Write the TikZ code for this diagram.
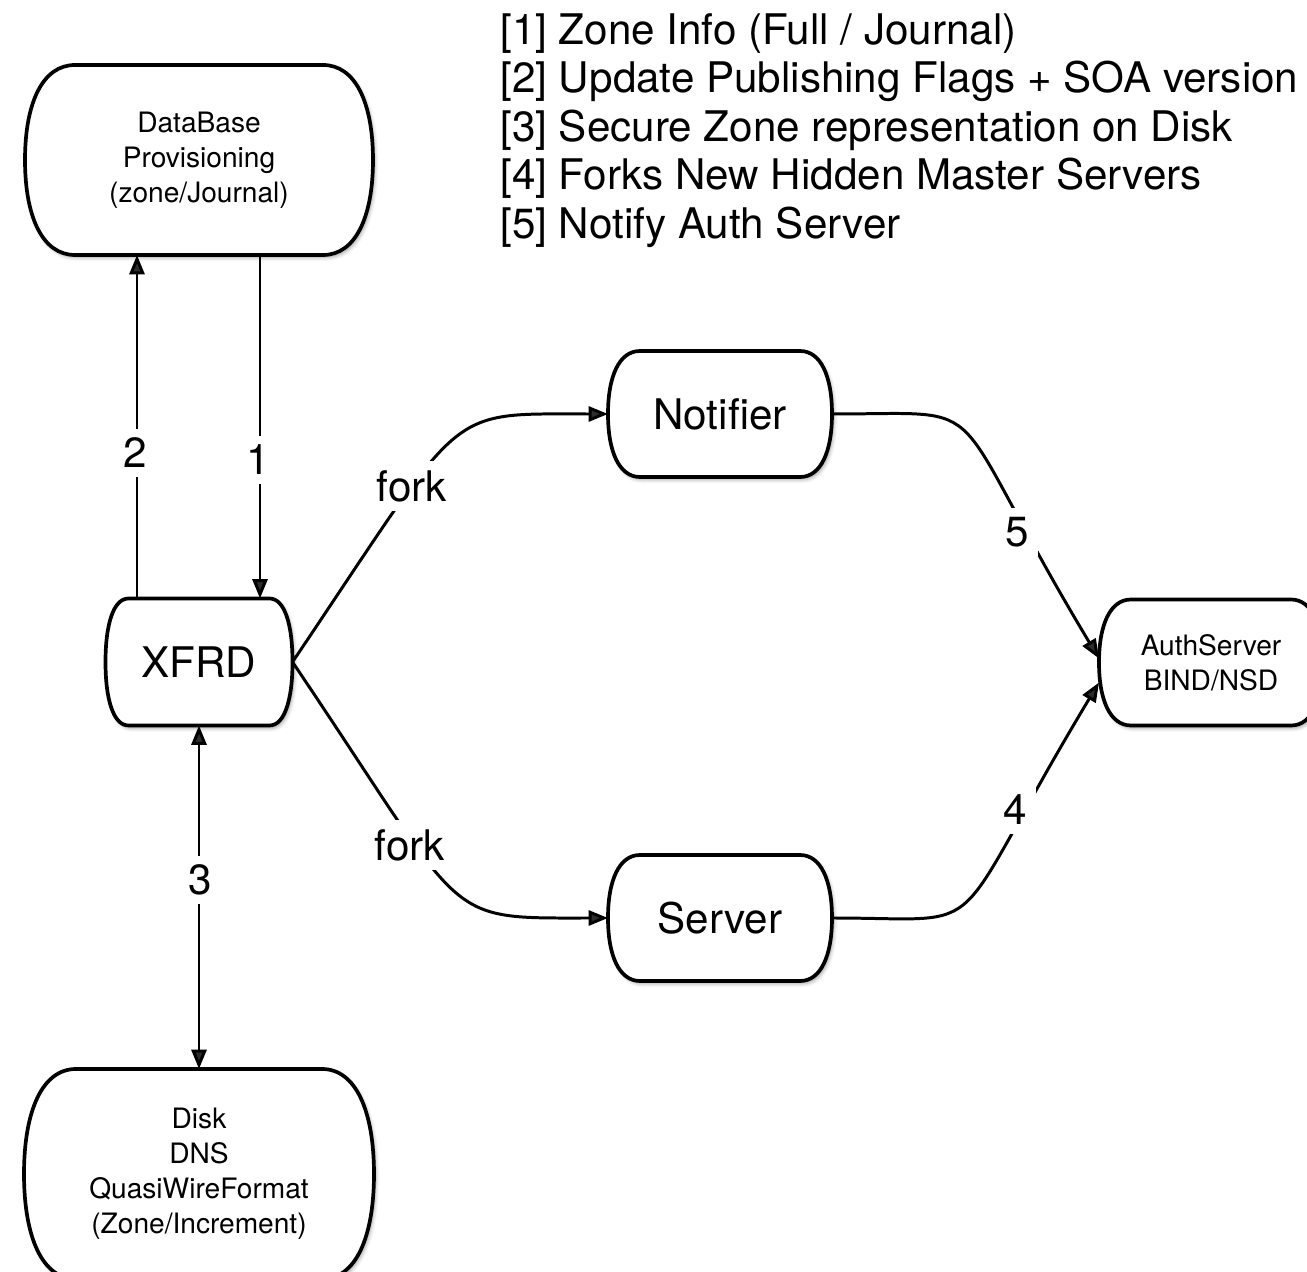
\documentclass[tikz,border=0pt]{standalone}
\usepackage{fontspec}
\setmainfont{TeX Gyre Heros}
\usetikzlibrary{calc, arrows.meta, backgrounds, shadows.blur}

% outline with bulging sides round a node
\newcommand{\pillbox}[2]{%
  \draw[boxline]
    ($(#1.north west)+(#2,0)$) -- ($(#1.north east)+({-#2},0)$)
    .. controls ($(#1.north east)+({-#2*0.35},0)$) and ($(#1.north east)!0.4!(#1.east)$) .. (#1.east)
    .. controls ($(#1.south east)!0.4!(#1.east)$) and ($(#1.south east)+({-#2*0.35},0)$) .. ($(#1.south east)+({-#2},0)$)
    -- ($(#1.south west)+(#2,0)$)
    .. controls ($(#1.south west)+({#2*0.35},0)$) and ($(#1.south west)!0.4!(#1.west)$) .. (#1.west)
    .. controls ($(#1.north west)!0.4!(#1.west)$) and ($(#1.north west)+({#2*0.35},0)$) .. cycle;%
}

\begin{document}
\begin{tikzpicture}[
    >={Triangle[length=11pt, width=8.5pt]},
    conn/.style={line width=1.7pt},
    box/.style={inner sep=0pt, outer sep=0pt, align=center},
    big/.style={font=\fontsize{24}{28}\selectfont},
    small/.style={font=\fontsize{16}{19.9}\selectfont},
    boxline/.style={line width=2.1pt, fill=white,
        blur shadow={shadow xshift=1.2pt, shadow yshift=-1.6pt,
                     shadow blur radius=2pt, shadow opacity=35}},
    lbl/.style={fill=white, inner sep=5pt, font=\fontsize{24}{28}\selectfont}
]
    \useasboundingbox (0,0) rectangle (26.14,-25.44);

    % Legend
    \node[anchor=north west, inner sep=0pt, align=left,
          font=\fontsize{24}{27.6}\selectfont] (legend) at (10.0,-0.26)
        {{[1]} Zone Info (Full / Journal)\\
         {[2]} Update Publishing Flags + SOA version\\
         {[3]} Secure Zone representation on Disk\\
         {[4]} Forks New Hidden Master Servers\\
         {[5]} Notify Auth Server};

    % Boxes
    \node[box, small, minimum width=6.96cm, minimum height=3.8cm] (db) at (3.98,-3.2)
        {DataBase\\Provisioning\\(zone/Journal)};
    \node[box, big, minimum width=3.74cm, minimum height=2.54cm] (xfrd) at (3.98,-13.24) {XFRD};
    \node[box, small, minimum width=7.0cm, minimum height=4.2cm] (disk) at (3.98,-23.48)
        {Disk\\DNS\\QuasiWireFormat\\(Zone/Increment)};
    \node[box, big, minimum width=4.48cm, minimum height=2.52cm] (notifier) at (14.4,-8.28) {Notifier};
    \node[box, big, minimum width=4.48cm, minimum height=2.52cm] (server) at (14.4,-18.36) {Server};
    \node[box, small, minimum width=4.48cm, minimum height=2.52cm] (auth) at (24.22,-13.25)
        {AuthServer\\BIND/NSD};

    \begin{pgfonlayer}{background}
        \foreach \n/\d in {db/1.0, xfrd/0.46, disk/1.04, notifier/0.64, server/0.64, auth/0.64}{
            \pillbox{\n}{\d}
        }
    \end{pgfonlayer}

    % XFRD <-> database
    \draw[conn, ->] ([xshift=-1.24cm]xfrd.north) -- ([xshift=-1.24cm]db.south);
    \draw[conn, ->] ([xshift=1.22cm]db.south) -- ([xshift=1.22cm]xfrd.north);
    % XFRD <-> disk
    \draw[conn, <->] (xfrd.south) -- (disk.north);

    % Forks
    \draw[conn, ->] (xfrd.east) to[out=56, in=180, out looseness=2, in looseness=1.06] (notifier.west);
    \draw[conn, ->] (xfrd.east) to[out=-56, in=180, out looseness=2, in looseness=1.06] (server.west);

    % Towards the auth server
    \draw[conn, ->] (notifier.east) to[out=0, in=121, out looseness=1.2, in looseness=2.2] ([yshift=0.08cm]auth.west);
    \draw[conn, ->] (server.east) to[out=0, in=-121, out looseness=1.2, in looseness=2.2] ([yshift=-0.4cm]auth.west);

    % Labels
    \node[lbl] (l2) at (2.7,-9.06) {2};
    \node[lbl] (l1) at (5.16,-9.2) {1};
    \node[lbl] (l3) at (4.0,-17.6) {3};
    \node[lbl] (forkup) at (8.24,-9.72) {fork};
    \node[lbl] (forkdown) at (8.2,-16.9) {fork};
    \node[lbl] (l5) at (20.34,-10.64) {5};
    \node[lbl] (l4) at (20.3,-16.2) {4};

\end{tikzpicture}
\end{document}
